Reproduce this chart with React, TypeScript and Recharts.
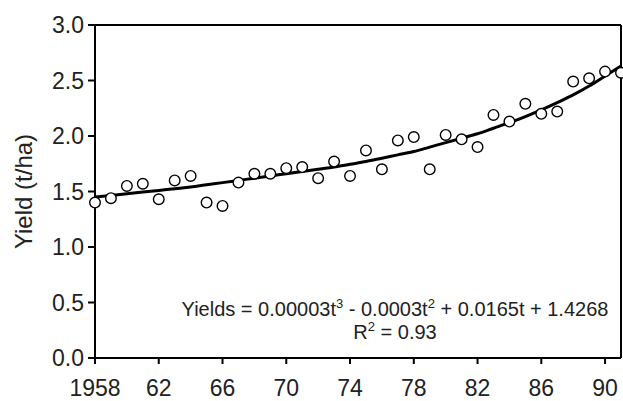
import React from 'react';
import {
  ComposedChart,
  Line,
  Scatter,
  XAxis,
  YAxis,
  ReferenceLine,
  Label,
} from 'recharts';

const years = [
  1958, 1959, 1960, 1961, 1962, 1963, 1964, 1965, 1966, 1967, 1968, 1969,
  1970, 1971, 1972, 1973, 1974, 1975, 1976, 1977, 1978, 1979, 1980, 1981,
  1982, 1983, 1984, 1985, 1986, 1987, 1988, 1989, 1990, 1991,
];

const observed = [
  1.4, 1.44, 1.55, 1.57, 1.43, 1.6, 1.64, 1.4, 1.37, 1.58, 1.66, 1.66,
  1.71, 1.72, 1.62, 1.77, 1.64, 1.87, 1.7, 1.96, 1.99, 1.7, 2.01, 1.97,
  1.9, 2.19, 2.13, 2.29, 2.2, 2.22, 2.49, 2.52, 2.58, 2.57,
];

// fitted curve
const fitted = [
  1.45, 1.465, 1.48, 1.495, 1.51, 1.525, 1.54, 1.56, 1.58, 1.6, 1.62, 1.64,
  1.66, 1.68, 1.7, 1.72, 1.745, 1.77, 1.8, 1.83, 1.86, 1.9, 1.94, 1.98,
  2.02, 2.07, 2.12, 2.175, 2.235, 2.3, 2.37, 2.45, 2.54, 2.63,
];

const xTicks = [1958, 1962, 1966, 1970, 1974, 1978, 1982, 1986, 1990];
const yTicks = [0, 0.5, 1, 1.5, 2, 2.5, 3];

const data = years.map((year, i) => ({ year, obs: observed[i], fit: fitted[i] }));

const font = '"Liberation Sans", Arial, sans-serif';
const tickStyle = { fill: '#222', fontSize: 23, fontFamily: font };

const YLabel = (props: any) => {
  const { viewBox } = props;
  const cy = viewBox.y + viewBox.height / 2;
  return (
    <text
      x={23}
      y={cy}
      transform={`rotate(-90, 23, ${cy})`}
      textAnchor="middle"
      dominantBaseline="central"
      fill="#222"
      fontSize={24}
      fontFamily={font}
    >
      Yield (t/ha)
    </text>
  );
};

const supStyle = { fontSize: 13, lineHeight: 0 };

const App: React.FC = () => {
  return (
    <div style={{ position: 'absolute', left: 0, top: 0, width: 623, height: 401, background: '#fff' }}>
      <ComposedChart width={623} height={401} data={data} margin={{ top: 25, right: 2, bottom: 0, left: 0 }}>
        <XAxis
          dataKey="year"
          type="number"
          domain={[1958, 1991]}
          ticks={xTicks}
          tickFormatter={(v: number) => (v === 1958 ? '1958' : String(v % 100))}
          tick={tickStyle}
          tickSize={6}
          tickMargin={16}
          height={43}
          stroke="#000"
          strokeWidth={2}
          interval={0}
        />
        <YAxis
          type="number"
          domain={[0, 3]}
          ticks={yTicks}
          tickFormatter={(v: number) => v.toFixed(1)}
          tick={tickStyle}
          tickSize={7}
          tickMargin={4}
          width={95}
          stroke="#000"
          strokeWidth={2}
          interval={0}
        >
          <Label content={<YLabel />} />
        </YAxis>
        <ReferenceLine y={3} stroke="#000" strokeWidth={2} />
        <ReferenceLine x={1991} stroke="#000" strokeWidth={2} />
        <Line
          dataKey="fit"
          type="monotone"
          stroke="#000"
          strokeWidth={3}
          dot={false}
          activeDot={false}
          isAnimationActive={false}
        />
        <Scatter
          dataKey="obs"
          fill="#fff"
          stroke="#000"
          strokeWidth={1.4}
          shape={(p: any) => <circle cx={p.cx} cy={p.cy} r={5.3} fill="#fff" stroke="#000" strokeWidth={1.4} />}
          isAnimationActive={false}
        />
      </ComposedChart>
      <div
        style={{
          position: 'absolute',
          left: 170,
          top: 298,
          width: 450,
          textAlign: 'center',
          fontFamily: font,
          fontSize: 20,
          lineHeight: '23px',
          color: '#222',
        }}
      >
        <div>
          Yields = 0.00003t<sup style={supStyle}>3</sup> - 0.0003t<sup style={supStyle}>2</sup> + 0.0165t + 1.4268
        </div>
        <div>
          R<sup style={supStyle}>2</sup> = 0.93
        </div>
      </div>
    </div>
  );
};

export default App;
